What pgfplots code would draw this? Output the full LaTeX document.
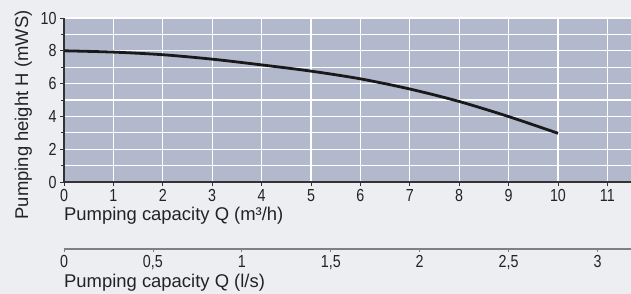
\documentclass[border=0pt]{standalone}
\usepackage{pgfplots}
\pgfplotsset{compat=1.18}
\usepackage{fontspec}
\setmainfont{Liberation Sans}
\newfontfamily\condfont[FakeStretch=0.82]{Liberation Sans}
\definecolor{pagebg}{RGB}{237,238,242}
\definecolor{plotbg}{RGB}{178,185,205}
\definecolor{txt}{RGB}{35,35,35}
\begin{document}
\begin{tikzpicture}
\fill[pagebg] (-64bp,-112bp) rectangle (567bp,182bp);
\begin{axis}[
  at={(0,0)}, anchor=south west,
  scale only axis, width=567bp, height=164bp,
  xmin=0, xmax=11.478, ymin=0, ymax=10,
  axis x line=bottom, axis y line=left,
  axis line style={-, draw=black!80, line width=1.1bp},
  axis background/.style={fill=plotbg},
  xtick={0,...,11}, ytick={0,2,...,10}, minor ytick={1,3,...,9},
  grid=both,
  major grid style={white, line width=1.1bp},
  minor grid style={white, line width=1.1bp},
  tick align=outside, major tick length=4bp, minor tick length=3bp,
  tick style={black!80, line width=0.8bp},
  tick label style={font=\condfont\fontsize{17.5}{18}\selectfont, text=txt},
  /pgf/number format/assume math mode=true,
]
\addplot[smooth, line width=2.8bp, color=black!90] coordinates {
(0,8.0) (1,7.92) (2,7.76) (3,7.49) (4,7.14) (5,6.76) (6,6.29) (7,5.67) (8,4.91) (9,3.99) (10,2.97)
};
\end{axis}
\begin{axis}[
  at={(0,-67bp)}, anchor=south west,
  scale only axis, width=567bp, height=1bp,
  xmin=0, xmax=3.188, ymin=0, ymax=1,
  hide y axis, axis x line=bottom,
  x axis line style={-, draw=gray, line width=1.2bp},
  xtick={0,0.5,1,1.5,2,2.5,3},
  xticklabels={0,{0,5},1,{1,5},2,{2,5},3},
  tick align=outside, major tick length=3bp,
  tick style={gray, line width=0.8bp},
  tick label style={font=\condfont\fontsize{17.5}{18}\selectfont, text=txt},
]
\end{axis}
\node[anchor=base west, font=\fontsize{18.5}{20}\selectfont, text=txt, inner sep=0pt] at (0,-38.7bp) {Pumping capacity Q (m³/h)};
\node[anchor=base west, font=\fontsize{18.5}{20}\selectfont, text=txt, inner sep=0pt] at (0,-105bp) {Pumping capacity Q (l/s)};
\node[rotate=90, anchor=base, font=\fontsize{18.5}{20}\selectfont, text=txt, inner sep=0pt] at (-36bp,67bp) {Pumping height H (mWS)};
\pgfresetboundingbox
\useasboundingbox (-64bp,-112bp) rectangle (567bp,182bp);
\end{tikzpicture}
\end{document}
